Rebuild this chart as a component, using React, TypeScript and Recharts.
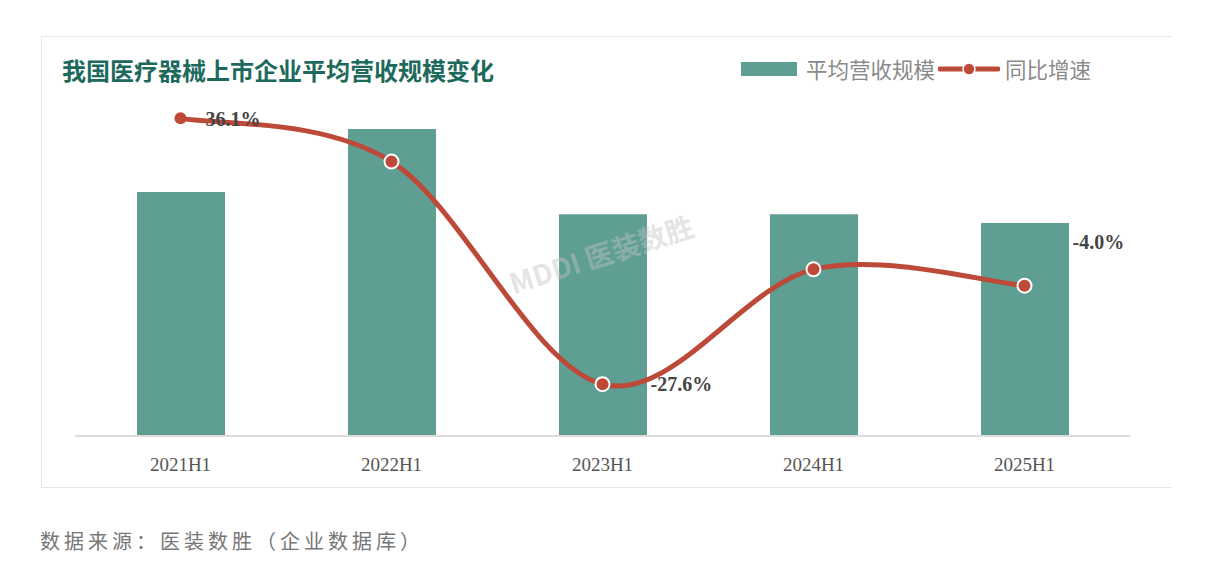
import { ComposedChart, Bar, Line, XAxis, YAxis, LabelList } from 'recharts';

const periods = ['2021H1', '2022H1', '2023H1', '2024H1', '2025H1'];
// 平均营收规模 (relative)
const avgRevenue = [8.25, 10.38, 7.5, 7.5, 7.2];
// 同比增速 (%)
const yoyGrowth = [36.1, 25.7, -27.6, -0.1, -4.0];
const shownLabels = ['36.1%', '', '-27.6%', '', '-4.0%'];

const chartData = periods.map((p, i) => ({
    period: p,
    revenue: avgRevenue[i],
    growth: yoyGrowth[i],
    label: shownLabels[i],
}));

const BAR_COLOR = '#5f9e93';
const LINE_COLOR = '#bd4a38';

// Catmull-Rom style smoothing, close to the office-chart smooth line
const smoothCurve = (context: any) => {
    let pts: number[][] = [];
    return {
        areaStart() {},
        areaEnd() {},
        lineStart() {
            pts = [];
        },
        point(x: number, y: number) {
            pts.push([+x, +y]);
        },
        lineEnd() {
            if (!pts.length) return;
            context.moveTo(pts[0][0], pts[0][1]);
            for (let i = 0; i < pts.length - 1; i++) {
                const p0 = pts[i - 1] || pts[i];
                const p1 = pts[i];
                const p2 = pts[i + 1];
                const p3 = pts[i + 2] || p2;
                context.bezierCurveTo(
                    p1[0] + (p2[0] - p0[0]) / 6,
                    p1[1] + (p2[1] - p0[1]) / 6,
                    p2[0] - (p3[0] - p1[0]) / 6,
                    p2[1] - (p3[1] - p1[1]) / 6,
                    p2[0],
                    p2[1]
                );
            }
        },
    };
};

const GrowthDot = (props: any) => {
    const { cx, cy, index } = props;
    if (index === 0) {
        return <circle cx={cx} cy={cy} r={6} fill={LINE_COLOR} />;
    }
    return <circle cx={cx} cy={cy} r={7} fill={LINE_COLOR} stroke="#fff" strokeWidth={2} />;
};

// label offsets: first sits right of its point, the others right of the bar
const labelOffsets = [
    [25, 8],
    [0, 0],
    [48, 7],
    [0, 0],
    [48, -37],
];

const GrowthLabel = (props: any) => {
    const { x, y, value, index } = props;
    if (!value) return null;
    const [dx, dy] = labelOffsets[index];
    return (
        <text
            x={x + dx}
            y={y + dy}
            fill="#444"
            fontFamily="'Liberation Serif', 'Times New Roman', serif"
            fontWeight="bold"
            fontSize={20}
        >
            {value}
        </text>
    );
};

const ChartLegend = () => (
    <div
        style={{
            position: 'absolute',
            left: 741,
            top: 53,
            display: 'flex',
            alignItems: 'center',
            fontFamily: "'Noto Sans CJK SC', sans-serif",
            fontSize: 21.5,
            color: '#8a8a8a',
            whiteSpace: 'nowrap',
        }}
    >
        <span style={{ display: 'inline-block', width: 56, height: 14, background: BAR_COLOR, marginRight: 9 }} />
        <span>平均营收规模</span>
        <svg width={62} height={14} style={{ margin: '0 5px 0 3px' }}>
            <line x1={2} y1={7} x2={60} y2={7} stroke={LINE_COLOR} strokeWidth={5} strokeLinecap="round" />
            <circle cx={31} cy={7} r={6} fill={LINE_COLOR} stroke="#fff" strokeWidth={1.5} />
        </svg>
        <span>同比增速</span>
    </div>
);

const App = () => {
    return (
        <div style={{ position: 'absolute', left: 0, top: 0, width: 1211, height: 580, background: '#fff' }}>
            <div
                style={{
                    position: 'absolute',
                    left: 41,
                    top: 36,
                    width: 1130,
                    height: 450,
                    borderTop: '1px solid #e6e6e6',
                    borderLeft: '1px solid #e6e6e6',
                    borderBottom: '1px solid #e6e6e6',
                }}
            />
            <div
                style={{
                    position: 'absolute',
                    left: 62,
                    top: 52,
                    fontFamily: "'Noto Sans CJK SC', sans-serif",
                    fontWeight: 'bold',
                    fontSize: 24,
                    color: '#1d6a5c',
                    whiteSpace: 'nowrap',
                }}
            >
                我国医疗器械上市企业平均营收规模变化
            </div>
            <ChartLegend />
            <div
                style={{
                    position: 'absolute',
                    left: 516,
                    top: 262,
                    transform: 'rotate(-18deg)',
                    transformOrigin: 'left bottom',
                    fontFamily: "'Noto Sans CJK SC', sans-serif",
                    fontWeight: 'bold',
                    fontSize: 28,
                    color: 'rgba(195,195,195,0.45)',
                    whiteSpace: 'nowrap',
                    zIndex: 2,
                    pointerEvents: 'none',
                }}
            >
                MDDI 医装数胜
            </div>
            <div style={{ position: 'absolute', left: 0, top: 0 }}>
                <ComposedChart
                    width={1211}
                    height={580}
                    data={chartData}
                    margin={{ top: 81, right: 81, bottom: 114, left: 75 }}
                >
                    <XAxis
                        dataKey="period"
                        axisLine={{ stroke: '#dcdcdc', strokeWidth: 2 }}
                        tickLine={false}
                        tickSize={0}
                        tickMargin={22}
                        height={30}
                        tick={{ fill: '#555', fontSize: 19, fontFamily: "'Liberation Serif', 'Times New Roman', serif" }}
                    />
                    <YAxis yAxisId="bar" hide domain={[0, 12]} />
                    <YAxis yAxisId="line" hide orientation="right" domain={[-40, 45]} />
                    <Bar yAxisId="bar" dataKey="revenue" name="平均营收规模" fill={BAR_COLOR} barSize={88} isAnimationActive={false} />
                    <Line
                        yAxisId="line"
                        dataKey="growth"
                        name="同比增速"
                        type={smoothCurve as any}
                        stroke={LINE_COLOR}
                        strokeWidth={5}
                        dot={<GrowthDot />}
                        activeDot={false}
                        isAnimationActive={false}
                    >
                        <LabelList dataKey="label" content={<GrowthLabel />} />
                    </Line>
                </ComposedChart>
            </div>
            <div
                style={{
                    position: 'absolute',
                    left: 40,
                    top: 526,
                    fontFamily: "'Noto Sans CJK SC', sans-serif",
                    fontSize: 20,
                    letterSpacing: 4,
                    color: '#777',
                    whiteSpace: 'nowrap',
                }}
            >
                数据来源：医装数胜（企业数据库）
            </div>
        </div>
    );
};

export default App;
